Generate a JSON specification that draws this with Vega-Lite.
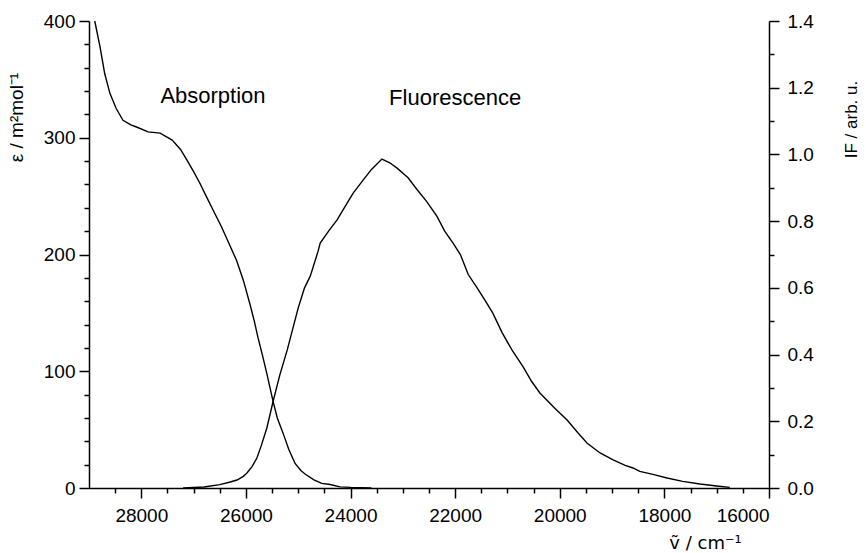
{
  "$schema": "https://vega.github.io/schema/vega-lite/v6.json",
  "autosize": {"type": "none"},
  "padding": {"left": 89, "top": 21, "right": 97, "bottom": 65},
  "width": 680,
  "height": 467,
  "background": "white",
  "config": {
    "view": {"stroke": null},
    "font": "Liberation Sans",
    "axis": {
      "grid": false,
      "domainColor": "black",
      "domainWidth": 1.5,
      "tickColor": "black",
      "tickWidth": 1.5,
      "labelColor": "black",
      "labelFont": "Liberation Sans",
      "labelFontSize": 19,
      "titleFont": "Liberation Sans",
      "titleFontWeight": "normal",
      "titleColor": "black"
    }
  },
  "datasets": {
    "absorption": [
      {"nu": 28890, "eps": 400}, {"nu": 28790, "eps": 378}, {"nu": 28700, "eps": 355},
      {"nu": 28600, "eps": 338}, {"nu": 28480, "eps": 325}, {"nu": 28350, "eps": 315},
      {"nu": 28200, "eps": 311}, {"nu": 28080, "eps": 309}, {"nu": 27870, "eps": 305},
      {"nu": 27640, "eps": 304}, {"nu": 27410, "eps": 298}, {"nu": 27250, "eps": 290},
      {"nu": 27130, "eps": 281}, {"nu": 27000, "eps": 271}, {"nu": 26880, "eps": 261},
      {"nu": 26760, "eps": 250}, {"nu": 26650, "eps": 240}, {"nu": 26470, "eps": 224},
      {"nu": 26300, "eps": 207}, {"nu": 26180, "eps": 195}, {"nu": 26050, "eps": 178},
      {"nu": 25920, "eps": 157}, {"nu": 25840, "eps": 143}, {"nu": 25770, "eps": 129},
      {"nu": 25680, "eps": 113}, {"nu": 25600, "eps": 98}, {"nu": 25540, "eps": 86},
      {"nu": 25480, "eps": 74}, {"nu": 25400, "eps": 60}, {"nu": 25290, "eps": 47},
      {"nu": 25180, "eps": 33}, {"nu": 25060, "eps": 21}, {"nu": 24950, "eps": 15},
      {"nu": 24870, "eps": 12}, {"nu": 24700, "eps": 7}, {"nu": 24550, "eps": 4},
      {"nu": 24390, "eps": 3}, {"nu": 24200, "eps": 1}, {"nu": 24000, "eps": 0.5},
      {"nu": 23600, "eps": 0}
    ],
    "fluorescence": [
      {"nu": 27200, "I": 0}, {"nu": 26800, "I": 0.003}, {"nu": 26500, "I": 0.01},
      {"nu": 26300, "I": 0.018}, {"nu": 26170, "I": 0.024}, {"nu": 26050, "I": 0.035},
      {"nu": 25980, "I": 0.045}, {"nu": 25880, "I": 0.065}, {"nu": 25790, "I": 0.09},
      {"nu": 25700, "I": 0.13}, {"nu": 25600, "I": 0.18}, {"nu": 25480, "I": 0.26},
      {"nu": 25350, "I": 0.34}, {"nu": 25210, "I": 0.414}, {"nu": 25100, "I": 0.48},
      {"nu": 25000, "I": 0.54}, {"nu": 24880, "I": 0.6}, {"nu": 24770, "I": 0.635},
      {"nu": 24620, "I": 0.71}, {"nu": 24580, "I": 0.734}, {"nu": 24420, "I": 0.77},
      {"nu": 24260, "I": 0.803}, {"nu": 24100, "I": 0.845}, {"nu": 23950, "I": 0.884},
      {"nu": 23760, "I": 0.923}, {"nu": 23600, "I": 0.955}, {"nu": 23400, "I": 0.986},
      {"nu": 23250, "I": 0.975}, {"nu": 23110, "I": 0.959}, {"nu": 22900, "I": 0.93},
      {"nu": 22730, "I": 0.895}, {"nu": 22550, "I": 0.86}, {"nu": 22350, "I": 0.815},
      {"nu": 22200, "I": 0.77}, {"nu": 22040, "I": 0.734}, {"nu": 21900, "I": 0.7},
      {"nu": 21750, "I": 0.64}, {"nu": 21580, "I": 0.6}, {"nu": 21420, "I": 0.56},
      {"nu": 21280, "I": 0.524}, {"nu": 21100, "I": 0.465}, {"nu": 20900, "I": 0.41},
      {"nu": 20700, "I": 0.363}, {"nu": 20540, "I": 0.32}, {"nu": 20380, "I": 0.285},
      {"nu": 20100, "I": 0.24}, {"nu": 19860, "I": 0.204}, {"nu": 19650, "I": 0.165},
      {"nu": 19480, "I": 0.135}, {"nu": 19230, "I": 0.105}, {"nu": 18980, "I": 0.084},
      {"nu": 18750, "I": 0.068}, {"nu": 18600, "I": 0.06}, {"nu": 18470, "I": 0.05},
      {"nu": 18200, "I": 0.04}, {"nu": 17950, "I": 0.03}, {"nu": 17650, "I": 0.02},
      {"nu": 17320, "I": 0.012}, {"nu": 17000, "I": 0.006}, {"nu": 16750, "I": 0.002}
    ],
    "labels": [
      {"nu": 26630, "eps": 336, "label": "Absorption"},
      {"nu": 22000, "eps": 334, "label": "Fluorescence"}
    ]
  },
  "layer": [
    {
      "data": {"name": "absorption"},
      "mark": {"type": "line", "color": "black", "strokeWidth": 1.4},
      "encoding": {
        "x": {
          "field": "nu", "type": "quantitative",
          "scale": {"domain": [16000, 29000], "reverse": true, "nice": false, "zero": false},
          "axis": {
            "orient": "bottom",
            "values": [16000, 18000, 20000, 22000, 24000, 26000, 28000],
            "format": "d",
            "tickSize": 10,
            "labelPadding": 8,
            "title": "ṽ / cm⁻¹",
            "titleFont": "DejaVu Sans",
            "titleFontSize": 18,
            "titleAlign": "center",
            "titleBaseline": "alphabetic",
            "titleX": 616,
            "titleY": 60
          }
        },
        "y": {
          "field": "eps", "type": "quantitative",
          "scale": {"domain": [0, 400], "nice": false},
          "axis": {
            "orient": "left",
            "values": [0, 100, 200, 300, 400],
            "tickSize": 10,
            "labelPadding": 4,
            "title": "ε / m²mol⁻¹",
            "titleFontSize": 19,
            "titleAngle": -90,
            "titleAlign": "center",
            "titleBaseline": "alphabetic",
            "titleX": -67,
            "titleY": 96
          }
        }
      }
    },
    {
      "data": {"name": "fluorescence"},
      "mark": {"type": "line", "color": "black", "strokeWidth": 1.4},
      "encoding": {
        "x": {
          "field": "nu", "type": "quantitative",
          "scale": {"domain": [16000, 29000], "reverse": true, "nice": false, "zero": false},
          "axis": {
            "orient": "bottom",
            "values": [16500, 17000, 17500, 18500, 19000, 19500, 20500, 21000, 21500, 22500, 23000, 23500, 24500, 25000, 25500, 26500, 27000, 27500, 28500],
            "tickSize": 5,
            "labels": false,
            "domain": false,
            "title": null
          }
        },
        "y": {
          "field": "I", "type": "quantitative",
          "scale": {"domain": [0, 1.4], "nice": false},
          "axis": {
            "orient": "right",
            "values": [0, 0.2, 0.4, 0.6, 0.8, 1.0, 1.2, 1.4],
            "format": ".1f",
            "tickSize": 10,
            "labelPadding": 8,
            "title": "IF / arb. u.",
            "titleFontSize": 17,
            "titleAngle": -90,
            "titleAlign": "center",
            "titleBaseline": "alphabetic",
            "titleX": 87,
            "titleY": 98
          }
        }
      }
    },
    {
      "data": {"name": "absorption"},
      "mark": {"type": "line", "strokeOpacity": 0},
      "encoding": {
        "x": {
          "field": "nu", "type": "quantitative",
          "scale": {"domain": [16000, 29000], "reverse": true, "nice": false, "zero": false},
          "axis": null
        },
        "y": {
          "field": "eps", "type": "quantitative",
          "scale": {"domain": [0, 400], "nice": false},
          "axis": {
            "orient": "left",
            "values": [20, 40, 60, 80, 120, 140, 160, 180, 220, 240, 260, 280, 320, 340, 360, 380],
            "tickSize": 5,
            "labels": false,
            "domain": false,
            "title": null
          }
        }
      }
    },
    {
      "data": {"name": "fluorescence"},
      "mark": {"type": "line", "strokeOpacity": 0},
      "encoding": {
        "x": {
          "field": "nu", "type": "quantitative",
          "scale": {"domain": [16000, 29000], "reverse": true, "nice": false, "zero": false},
          "axis": null
        },
        "y": {
          "field": "I", "type": "quantitative",
          "scale": {"domain": [0, 1.4], "nice": false},
          "axis": {
            "orient": "right",
            "values": [0.1, 0.3, 0.5, 0.7, 0.9, 1.1, 1.3],
            "tickSize": 5,
            "labels": false,
            "domain": false,
            "title": null
          }
        }
      }
    },
    {
      "data": {"name": "labels"},
      "mark": {"type": "text", "color": "black", "font": "Liberation Sans", "fontSize": 22, "align": "center", "baseline": "middle"},
      "encoding": {
        "x": {
          "field": "nu", "type": "quantitative",
          "scale": {"domain": [16000, 29000], "reverse": true, "nice": false, "zero": false},
          "axis": null
        },
        "y": {
          "field": "eps", "type": "quantitative",
          "scale": {"domain": [0, 400], "nice": false},
          "axis": null
        },
        "text": {"field": "label"}
      }
    }
  ],
  "resolve": {
    "scale": {"y": "independent"},
    "axis": {"x": "independent", "y": "independent"}
  }
}
